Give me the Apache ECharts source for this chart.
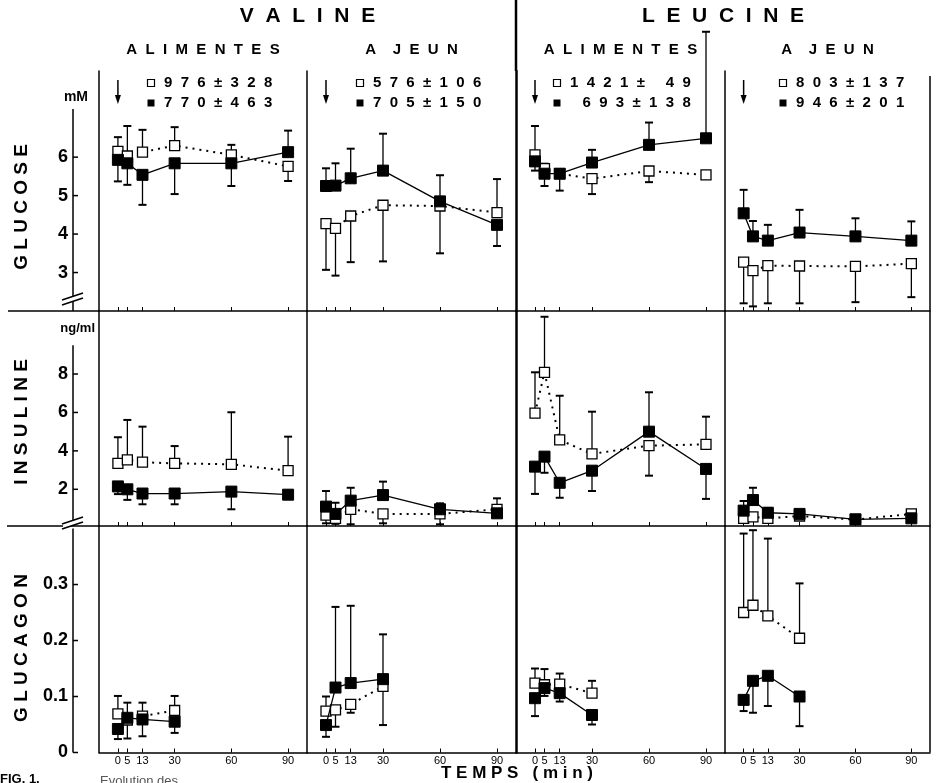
<!DOCTYPE html>
<html>
<head>
<meta charset="utf-8">
<script src="https://cdn.jsdelivr.net/npm/echarts@6/dist/echarts.min.js"></script>
<style>
  html, body { margin: 0; padding: 0; background: #fff; }
  #main { width: 936px; height: 783px; }
</style>
</head>
<body>
<div id="main"></div>
<script>
// temps de prélèvement (min)
const times = [0, 5, 13, 30, 60, 90]
const gcgTimes = [0, 5, 13, 30]
const xTicks = [0, 5, 13, 30, 60, 90]

const aminoAcids = ['VALINE', 'LEUCINE']
const states = ['ALIMENTES', 'A JEUN', 'ALIMENTES', 'A JEUN']
const rowNames = ['GLUCOSE', 'INSULINE', 'GLUCAGON']
const units = ['mM', 'ng/ml', '']
const legendOpen = ['976±328', '576±106', '1421± 49', '803±137']
const legendFilled = ['770±463', '705±150', ' 693±138', '946±201']

const glucoseTicks = [3, 4, 5, 6]
const insulinTicks = [2, 4, 6, 8]
const glucagonTicks = [0, 0.1, 0.2, 0.3]

// glucose (mM) — O = carrés vides, F = carrés pleins, Err = barre (signe = sens)
const gluValFedO = [6.15, 6.03, 6.13, 6.30, 6.06, 5.76]
const gluValFedOErr = [0.37, 0.78, 0.58, 0.48, 0.26, -0.38]
const gluValFedF = [5.93, 5.84, 5.54, 5.84, 5.84, 6.13]
const gluValFedFErr = [-0.56, -0.56, -0.78, -0.80, -0.59, 0.56]
const gluValFastO = [4.27, 4.15, 4.47, 4.75, 4.73, 4.56]
const gluValFastOErr = [-1.20, -1.23, -1.20, -1.46, -1.23, 0.87]
const gluValFastF = [5.25, 5.26, 5.45, 5.65, 4.85, 4.24]
const gluValFastFErr = [0.46, 0.58, 0.77, 0.96, 0.68, -0.55]
const gluLeuFedO = [6.06, 5.70, 5.57, 5.44, 5.64, 5.54]
const gluLeuFedOErr = [0.75, 0.13, 0, -0.40, -0.29, 0]
const gluLeuFedF = [5.89, 5.57, 5.57, 5.86, 6.32, 6.49]
const gluLeuFedFErr = [-0.24, -0.32, -0.44, 0.33, 0.58, 2.77]
const gluLeuFastO = [3.27, 3.05, 3.18, 3.17, 3.16, 3.23]
const gluLeuFastOErr = [-1.07, -0.93, -0.98, -0.97, -0.93, -0.87]
const gluLeuFastF = [4.54, 3.94, 3.83, 4.04, 3.94, 3.83]
const gluLeuFastFErr = [0.61, 0.40, 0.41, 0.59, 0.47, 0.50]

// insuline (ng/ml)
const insValFedO = [3.35, 3.53, 3.41, 3.35, 3.30, 2.97]
const insValFedOErr = [1.36, 2.08, 1.85, 0.90, 2.71, 1.77]
const insValFedF = [2.15, 2.00, 1.78, 1.78, 1.88, 1.72]
const insValFedFErr = [-0.40, -0.55, -0.56, -0.56, -0.92, 0]
const insValFastO = [0.66, 0.49, 0.96, 0.72, 0.72, 0.96]
const insValFastOErr = [-0.43, -0.29, -0.78, -0.49, -0.54, 0]
const insValFastF = [1.10, 0.72, 1.41, 1.70, 0.96, 0.75]
const insValFastFErr = [0.81, 0.58, 0.67, 0.70, 0.31, 0.78]
const insLeuFedO = [5.96, 8.09, 4.57, 3.84, 4.27, 4.34]
const insLeuFedOErr = [2.13, 2.89, 2.30, 2.20, -1.56, 1.44]
const insLeuFedF = [3.18, 3.70, 2.34, 2.97, 5.00, 3.06]
const insLeuFedFErr = [-1.42, -0.84, -0.78, -1.06, 2.05, -1.56]
const insLeuFastO = [0.49, 0.57, 0.49, 0.61, 0.42, 0.72]
const insLeuFastOErr = [0, 0, 0, 0, 0.2, 0]
const insLeuFastF = [0.89, 1.44, 0.78, 0.72, 0.44, 0.49]
const insLeuFastFErr = [0.5, 0.64, 0.25, 0, 0, 0]

// glucagon
const gcgValFedO = [0.069, 0.058, 0.065, 0.075]
const gcgValFedOErr = [0.032, 0.031, 0.024, 0.026]
const gcgValFedF = [0.042, 0.062, 0.059, 0.055]
const gcgValFedFErr = [-0.018, -0.037, -0.030, -0.020]
const gcgValFastO = [0.074, 0.076, 0.086, 0.118]
const gcgValFastOErr = [0.026, -0.030, -0.015, -0.069]
const gcgValFastF = [0.049, 0.116, 0.124, 0.131]
const gcgValFastFErr = [-0.021, 0.144, 0.138, 0.080]
const gcgLeuFedO = [0.124, 0.121, 0.122, 0.106]
const gcgLeuFedOErr = [0.026, 0.028, 0.019, 0.022]
const gcgLeuFedF = [0.097, 0.115, 0.106, 0.067]
const gcgLeuFedFErr = [-0.032, -0.014, -0.015, -0.017]
const gcgLeuFastO = [0.250, 0.263, 0.244, 0.204]
const gcgLeuFastOErr = [0.141, 0.134, 0.138, 0.098]
const gcgLeuFastF = [0.094, 0.128, 0.137, 0.100]
const gcgLeuFastFErr = [-0.020, -0.057, -0.054, -0.053]

const panelData = [
  [
    [gluValFedO, gluValFedOErr, gluValFedF, gluValFedFErr],
    [gluValFastO, gluValFastOErr, gluValFastF, gluValFastFErr],
    [gluLeuFedO, gluLeuFedOErr, gluLeuFedF, gluLeuFedFErr],
    [gluLeuFastO, gluLeuFastOErr, gluLeuFastF, gluLeuFastFErr]
  ],
  [
    [insValFedO, insValFedOErr, insValFedF, insValFedFErr],
    [insValFastO, insValFastOErr, insValFastF, insValFastFErr],
    [insLeuFedO, insLeuFedOErr, insLeuFedF, insLeuFedFErr],
    [insLeuFastO, insLeuFastOErr, insLeuFastF, insLeuFastFErr]
  ],
  [
    [gcgValFedO, gcgValFedOErr, gcgValFedF, gcgValFedFErr],
    [gcgValFastO, gcgValFastOErr, gcgValFastF, gcgValFastFErr],
    [gcgLeuFedO, gcgLeuFedOErr, gcgLeuFedF, gcgLeuFedFErr],
    [gcgLeuFastO, gcgLeuFastOErr, gcgLeuFastF, gcgLeuFastFErr]
  ]
]
const rowTimes = [times, times, gcgTimes]
const rowTicks = [glucoseTicks, insulinTicks, glucagonTicks]
const rowRange = [[2, 8.24], [0.09, 11.28], [0, 0.4045]]

// mise en page
const FONT = '"Liberation Sans", Arial, Helvetica, sans-serif'
const colLeft = [99, 307, 516, 725]
const colRight = [307, 516, 725, 930]
const rowTop = [71, 311, 526]
const rowBottom = [311, 526, 752.5]
const rowTitleY = [207, 422, 648]
const AXIS_OFFSET = 26

const spaced = (s, n) => s.split('').join(' '.repeat(n))

const chart = echarts.init(document.getElementById('main'))

const grids = []
const xAxes = []
const yAxes = []
const series = []

function errRender(params, api) {
  const mean = api.value(1)
  const end = api.value(2)
  if (mean === end) return null
  const p0 = api.coord([api.value(0), mean])
  const p1 = api.coord([api.value(0), end])
  return {
    type: 'group',
    children: [
      { type: 'line', shape: { x1: p0[0], y1: p0[1], x2: p1[0], y2: p1[1] }, style: { stroke: '#000', lineWidth: 1.3 } },
      { type: 'line', shape: { x1: p1[0] - 4, y1: p1[1], x2: p1[0] + 4, y2: p1[1] }, style: { stroke: '#000', lineWidth: 2 } }
    ]
  }
}

for (let r = 0; r < 3; r++) {
  for (let c = 0; c < 4; c++) {
    const g = r * 4 + c
    grids.push({
      left: colLeft[c], top: rowTop[r],
      width: colRight[c] - colLeft[c], height: rowBottom[r] - rowTop[r],
      outerBoundsMode: 'none'
    })
    xAxes.push({
      gridIndex: g, type: 'value', min: -10, max: 100,
      axisLine: { show: true, onZero: false, lineStyle: { color: '#000', width: 1.5 } },
      axisTick: { show: true, inside: true, length: 4, customValues: xTicks, lineStyle: { color: '#000', width: 1 } },
      axisLabel: { show: r === 2, customValues: xTicks, margin: 3, fontSize: 11, color: '#000', fontFamily: FONT },
      splitLine: { show: false }
    })
    yAxes.push({
      gridIndex: g, type: 'value', min: rowRange[r][0], max: rowRange[r][1],
      axisLine: { show: true, onZero: false, lineStyle: { color: '#000', width: c === 2 ? 2.5 : 1.5 } },
      axisTick: { show: false },
      axisLabel: { show: false },
      splitLine: { show: false }
    })

    const [openV, openE, fillV, fillE] = panelData[r][c]
    const t = rowTimes[r]
    series.push({
      type: 'custom', xAxisIndex: g, yAxisIndex: g, z: 1,
      renderItem: errRender, encode: { x: 0, y: [1, 2] }, silent: true,
      data: t.map((x, i) => [x, openV[i], openV[i] + openE[i]])
    })
    series.push({
      type: 'custom', xAxisIndex: g, yAxisIndex: g, z: 1,
      renderItem: errRender, encode: { x: 0, y: [1, 2] }, silent: true,
      data: t.map((x, i) => [x, fillV[i], fillV[i] + fillE[i]])
    })
    series.push({
      type: 'line', xAxisIndex: g, yAxisIndex: g, z: 3,
      symbol: 'rect', symbolSize: 10,
      itemStyle: { color: '#fff', borderColor: '#000', borderWidth: 1.3 },
      lineStyle: { color: '#000', width: 2, type: [2, 5] },
      data: t.map((x, i) => [x, openV[i]])
    })
    series.push({
      type: 'line', xAxisIndex: g, yAxisIndex: g, z: 4,
      symbol: 'rect', symbolSize: 11,
      itemStyle: { color: '#000', borderColor: '#000' },
      lineStyle: { color: '#000', width: 1.3 },
      data: t.map((x, i) => [x, fillV[i]])
    })
  }
}

// axes gradués à gauche (étiquettes seulement ; traits dessinés plus bas)
for (let r = 0; r < 3; r++) {
  yAxes.push({
    gridIndex: r * 4, type: 'value', min: rowRange[r][0], max: rowRange[r][1],
    position: 'left', offset: AXIS_OFFSET,
    axisLine: { show: false },
    axisTick: { show: false },
    axisLabel: { customValues: rowTicks[r], fontSize: 18, fontWeight: 'bold', color: '#000', margin: 5, fontFamily: FONT },
    splitLine: { show: false }
  })
}

chart.setOption({
  animation: false,
  backgroundColor: '#fff',
  grid: grids,
  xAxis: xAxes,
  yAxis: yAxes,
  series: series
})

// décor : titres, légendes, flèches, coupures d'axes
const graphic = []
const txt = (x, y, text, size, style, extra) => graphic.push(Object.assign({
  type: 'text', x: x, y: y,
  style: Object.assign({ text: text, fontSize: size, fontWeight: 'bold', fontFamily: FONT, fill: '#000', align: 'center', verticalAlign: 'middle' }, style || {})
}, extra || {}))
const seg = (x1, y1, x2, y2, w) => graphic.push({
  type: 'line', shape: { x1, y1, x2, y2 }, style: { stroke: '#000', lineWidth: w || 1.5 }
})

aminoAcids.forEach((a, i) => {
  txt((colLeft[i * 2] + colRight[i * 2 + 1]) / 2, 16, spaced(a, 2), 21)
})
states.forEach((s, c) => {
  txt((colLeft[c] + colRight[c]) / 2, 50, s === 'A JEUN' ? 'A    ' + spaced('JEUN', 2) : spaced(s, 2), 15)
})

// cadre
seg(516, 0, 516, 71, 2.5)
seg(930, 76, 930, 752.5, 1.5)
seg(8, 311, 99, 311, 1.5)
seg(7, 526, 99, 526, 1.5)

// légendes et flèches
const legOffset = [52, 53, 41, 58]
for (let c = 0; c < 4; c++) {
  const sx = colLeft[c] + legOffset[c]
  graphic.push({ type: 'rect', shape: { x: sx - 3.5, y: 79.5, width: 7, height: 7 }, style: { fill: '#fff', stroke: '#000', lineWidth: 1.2 } })
  graphic.push({ type: 'rect', shape: { x: sx - 3.5, y: 99.5, width: 7, height: 7 }, style: { fill: '#000' } })
  txt(sx + 13, 83, spaced(legendOpen[c], 2), 15, { align: 'left' })
  txt(sx + 13, 103, spaced(legendFilled[c], 2), 15, { align: 'left' })

  const ax = chart.convertToPixel({ gridIndex: c }, [0, rowRange[0][0]])[0]
  seg(ax, 80, ax, 98, 1.5)
  graphic.push({ type: 'polygon', shape: { points: [[ax - 3, 95], [ax + 3, 95], [ax, 104]] }, style: { fill: '#000' } })
}

// axes gradués : traits, graduations, noms
const axTop = [7.25, 9.5, 0.40]
const axX = colLeft[0] - AXIS_OFFSET
for (let r = 0; r < 3; r++) {
  const y1 = chart.convertToPixel({ yAxisIndex: 12 + r }, axTop[r])
  seg(axX, y1, axX, rowBottom[r], 1.5)
  rowTicks[r].forEach(v => {
    const ty = chart.convertToPixel({ yAxisIndex: 12 + r }, v)
    seg(axX, ty, axX + 5, ty, 1.5)
  })
  txt(22, rowTitleY[r], spaced(rowNames[r], 1), 19, {}, { rotation: Math.PI / 2 })
}

const breakY = [297, 521]
breakY.forEach(by => {
  graphic.push({ type: 'polygon', shape: { points: [[axX - 10, by + 3], [axX + 10, by - 4], [axX + 10, by + 1], [axX - 10, by + 8]] }, style: { fill: '#fff' } })
  seg(axX - 11, by + 3, axX + 10, by - 4, 1.6)
  seg(axX - 11, by + 8, axX + 10, by + 1, 1.6)
})

txt(88, 97, units[0], 14, { align: 'right' })
txt(95, 328, units[1], 13, { align: 'right' })

txt(517, 773, spaced('TEMPS (min)', 1), 17)
txt(0, 779, 'FIG. 1.', 13, { align: 'left' })
txt(100, 781, 'Evolution des', 13, { align: 'left', fontWeight: 'normal', fill: '#555' })

chart.setOption({ graphic: graphic })
</script>
</body>
</html>
